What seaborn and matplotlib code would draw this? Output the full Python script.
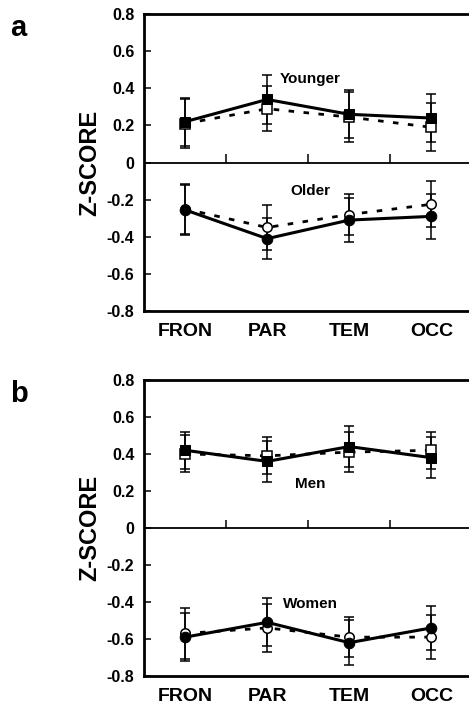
from matplotlib import pyplot as plt
import numpy as np
import pandas as pd
import seaborn as sns

regions = ["FRON", "PAR", "TEM", "OCC"]

# panel a: age groups
younger_solid = [0.22, 0.34, 0.26, 0.24]
younger_solid_err = [0.13, 0.13, 0.13, 0.13]
younger_dash = [0.21, 0.29, 0.245, 0.19]
younger_dash_err = [0.13, 0.12, 0.135, 0.13]
older_solid = [-0.255, -0.41, -0.31, -0.29]
older_solid_err = [0.135, 0.11, 0.12, 0.12]
older_dash = [-0.25, -0.35, -0.28, -0.225]
older_dash_err = [0.135, 0.12, 0.11, 0.125]

# panel b: sex groups
men_solid = [0.42, 0.36, 0.44, 0.38]
men_solid_err = [0.10, 0.11, 0.11, 0.11]
men_dash = [0.40, 0.39, 0.41, 0.42]
men_dash_err = [0.10, 0.10, 0.11, 0.10]
women_solid = [-0.59, -0.51, -0.62, -0.54]
women_solid_err = [0.13, 0.13, 0.12, 0.12]
women_dash = [-0.57, -0.54, -0.59, -0.59]
women_dash_err = [0.14, 0.13, 0.11, 0.12]

yticks = [0.8, 0.6, 0.4, 0.2, 0, -0.2, -0.4, -0.6, -0.8]
ytick_labels = ["0.8", "0.6", "0.4", "0.2", "0", "-0.2", "-0.4", "-0.6", "-0.8"]

sns.set_style("ticks", rc={"text.color": "black",
                           "axes.labelcolor": "black",
                           "xtick.color": "black",
                           "ytick.color": "black",
                           "axes.edgecolor": "black"})
plt.rcParams['font.family'] = ['Liberation Sans', 'DejaVu Sans']
plt.rcParams['font.weight'] = 'bold'

fig = plt.figure(figsize=(4.69, 7.06), dpi=100)
ax_a = fig.add_axes([0.307, 0.5595, 0.695, 0.4205])
ax_b = fig.add_axes([0.307, 0.0425, 0.695, 0.4193])

xpos = np.arange(len(regions)) + 0.5


def draw_group(ax, solid, solid_err, dash, dash_err, marker):
    df = pd.DataFrame({"x": np.concatenate([xpos, xpos]),
                       "y": solid + dash,
                       "kind": ["solid"] * 4 + ["dash"] * 4})
    # error bars first, under the markers
    ax.errorbar(xpos, dash, yerr=dash_err, fmt="none", ecolor="black",
                elinewidth=1.1, capsize=3.3, capthick=1.1, zorder=2)
    ax.errorbar(xpos, solid, yerr=solid_err, fmt="none", ecolor="black",
                elinewidth=1.1, capsize=3.3, capthick=1.1, zorder=2)
    sns.lineplot(data=df[df.kind == "dash"], x="x", y="y", ax=ax,
                 color="black", lw=2.0, dashes=False, zorder=3,
                 marker=marker, markersize=6.8, markerfacecolor="white",
                 markeredgecolor="black", markeredgewidth=1.1,
                 linestyle=(0, (2.0, 3.4)))
    sns.lineplot(data=df[df.kind == "solid"], x="x", y="y", ax=ax,
                 color="black", lw=2.2, zorder=4,
                 marker=marker, markersize=7.6 if marker == "o" else 7.0,
                 markerfacecolor="black", markeredgecolor="black")


def style_axes(ax, letter, label_top, top_y, label_bot, bot_y):
    ax.set_xlim(0, 3.97)
    ax.set_ylim(-0.8, 0.8)
    ax.axhline(0, color="black", lw=1.3, zorder=1)
    ax.vlines([1, 2, 3], 0, 0.045, color="black", lw=1.1)
    ax.set_xticks(xpos)
    ax.set_xticklabels(regions, fontsize=14, fontweight="bold")
    ax.set_yticks(yticks)
    ax.set_yticklabels(ytick_labels, fontsize=11.5, fontweight="bold")
    ax.tick_params(axis="x", length=0, pad=9)
    ax.tick_params(axis="y", direction="in", length=5, width=1.1, pad=7)
    ax.set_xlabel("")
    ax.set_ylabel("Z-SCORE", fontsize=17, fontweight="bold", labelpad=4)
    for side in ["left", "bottom", "top"]:
        ax.spines[side].set_linewidth(2.0)
    ax.spines["right"].set_visible(False)
    ax.text(2.03, top_y, label_top, fontsize=11, fontweight="bold",
            ha="center", va="center")
    ax.text(2.03, bot_y, label_bot, fontsize=11, fontweight="bold",
            ha="center", va="center")
    ax.text(-0.412, 1.0, letter, transform=ax.transAxes, fontsize=21,
            fontweight="bold", ha="left", va="top")


draw_group(ax_a, younger_solid, younger_solid_err, younger_dash,
           younger_dash_err, "s")
draw_group(ax_a, older_solid, older_solid_err, older_dash,
           older_dash_err, "o")
style_axes(ax_a, "a", "Younger", 0.45, "Older", -0.155)

draw_group(ax_b, men_solid, men_solid_err, men_dash, men_dash_err, "s")
draw_group(ax_b, women_solid, women_solid_err, women_dash,
           women_dash_err, "o")
style_axes(ax_b, "b", "Men", 0.24, "Women", -0.41)

fig.savefig("out.png", dpi=100)
